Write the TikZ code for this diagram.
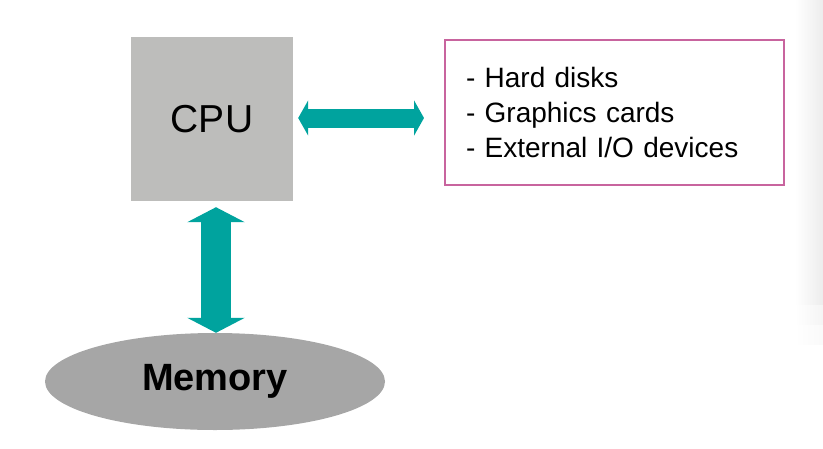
\documentclass[tikz,border=0pt]{standalone}
\usepackage{fontspec}
\setmainfont{Liberation Sans}
\usetikzlibrary{arrows.meta,shapes.geometric}
\definecolor{cpugray}{RGB}{189,189,187}
\definecolor{memgray}{RGB}{166,166,166}
\definecolor{teal}{RGB}{0,163,158}
\definecolor{boxline}{RGB}{200,100,158}
\tikzset{
  unit/.style={inner sep=0pt},
  bus/.style={draw=teal, line width=#1},
}
\begin{document}
\begin{tikzpicture}[x=1pt,y=-1pt]
\useasboundingbox (0,0) rectangle (823,448);
% right-edge shadow
\foreach \i in {0,...,27} {
  \pgfmathsetmacro{\k}{\i*7/27}
  \fill[black!\k] (795+\i,0) rectangle (796.2+\i,305);
  \pgfmathsetmacro{\kk}{\i*4/27}
  \fill[black!\kk] (795+\i,305) rectangle (796.2+\i,325);
  \pgfmathsetmacro{\kkk}{\i*2/27}
  \fill[black!\kkk] (795+\i,325) rectangle (796.2+\i,345);
}
% CPU
\node[unit, fill=cpugray, minimum width=162pt, minimum height=164pt,
      font=\fontsize{39}{46}\selectfont] (cpu) at (212,119) {CPU};
% Memory
\node[unit, ellipse, fill=memgray, minimum width=340pt, minimum height=97pt,
      font=\fontsize{38}{44}\selectfont\bfseries] (mem) at (215,381.5) {Memory};
% Devices box
\node[draw=boxline, line width=2pt, text width=297pt, inner xsep=21pt, inner ysep=0pt,
      minimum height=145pt, align=left,
      font=\fontsize{28}{35}\selectfont] (dev) at (614.5,112.5)
  {- Hard disks\\- Graphics cards\\- External I/O devices};
% buses
\draw[bus=19pt, {Triangle[length=10pt,width=35pt]}-{Triangle[length=10pt,width=35pt]},
      shorten <=5pt, shorten >=20pt] (cpu.east |- 0,118) -- (dev.west |- 0,118);
\draw[bus=30pt, {Triangle[length=15pt,width=57pt]}-{Triangle[length=15pt,width=57pt]},
      shorten <=6pt] (cpu.south -| 216,0) -- (mem.north -| 216,0);
\end{tikzpicture}
\end{document}
